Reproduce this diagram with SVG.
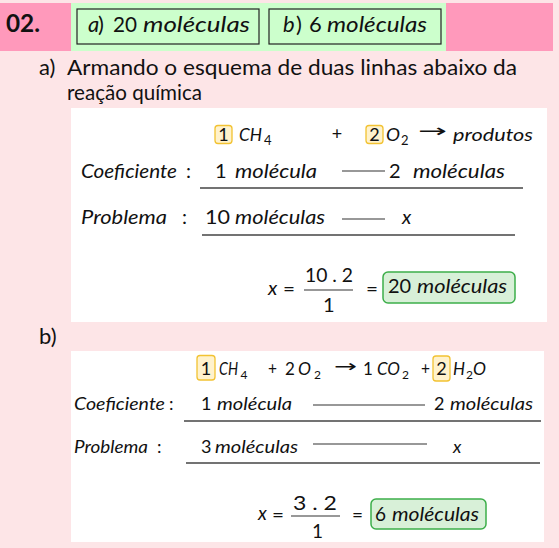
<svg xmlns="http://www.w3.org/2000/svg" width="559" height="548" viewBox="0 0 559 548">
<style>
text{font-family:Lato,"Open Sans","Liberation Sans",sans-serif;fill:#111}
.i{font-style:italic}
.bd{font-weight:bold}
.ar{font-family:"DejaVu Sans",sans-serif}
.hb{fill:#CCFFCC;stroke:#222;stroke-width:1.2}
.yb{fill:#FFF2CC;stroke:#F2C232;stroke-width:1.3}
.gb{fill:#D8F0D8;stroke:#3DAE4A;stroke-width:1.5}
.ln{stroke:#333;stroke-width:1.2}
.ul{stroke:#444;stroke-width:1.4}
.wb{fill:#FFFFFF}
</style>
<rect x="0" y="0" width="559" height="548" fill="#FDE5E7"/>

<g id="header">
<rect x="0" y="3" width="553" height="48" fill="#FF99BB"/>
<rect x="71" y="3" width="375" height="48" fill="#CCFFCC"/>
<text x="6" y="32" font-size="24" class="bd" textLength="34" lengthAdjust="spacingAndGlyphs">02.</text>
</g>

<g id="answer-a">
<rect class="hb" x="77" y="9" width="182" height="35"/>
<text x="88" y="32" font-size="22" class="i">a</text>
<text x="98" y="32" font-size="22">)</text>
<text x="113" y="32" font-size="22" textLength="24" lengthAdjust="spacingAndGlyphs">20</text>
<text x="143" y="32" font-size="22" class="i" textLength="107" lengthAdjust="spacingAndGlyphs">moléculas</text>
</g>

<g id="answer-b">
<rect class="hb" x="269" y="9" width="172" height="35"/>
<text x="283" y="32" font-size="22" class="i">b</text>
<text x="296" y="32" font-size="22">)</text>
<text x="309" y="32" font-size="22">6</text>
<text x="327" y="32" font-size="22" class="i" textLength="100" lengthAdjust="spacingAndGlyphs">moléculas</text>
</g>

<g id="intro-a">
<text x="39" y="75" font-size="22">a)</text>
<text x="67" y="75" font-size="22" textLength="450" lengthAdjust="spacingAndGlyphs">Armando o esquema de duas linhas abaixo da</text>
<text x="67" y="100" font-size="22" textLength="135" lengthAdjust="spacingAndGlyphs">reação química</text>
</g>

<g id="panel-a">
<rect class="wb" x="71" y="108" width="476" height="214"/>
<rect class="yb" x="215" y="125.5" width="17" height="18" rx="3"/>
<text x="223.5" y="141" font-size="18" text-anchor="middle">1</text>
<text x="239" y="141" font-size="18" class="i" textLength="23" lengthAdjust="spacingAndGlyphs">CH</text>
<text x="264" y="145" font-size="13">4</text>
<text x="337" y="140" font-size="18" text-anchor="middle">+</text>
<rect class="yb" x="366" y="125.5" width="17" height="18" rx="3"/>
<text x="374.5" y="141" font-size="18" text-anchor="middle">2</text>
<text x="386" y="141" font-size="18" class="i" textLength="14" lengthAdjust="spacingAndGlyphs">O</text>
<text x="401" y="145" font-size="13">2</text>
<text x="418" y="137" font-size="18" class="ar" textLength="29" lengthAdjust="spacingAndGlyphs">→</text>
<text x="453" y="141" font-size="18" class="i" textLength="80" lengthAdjust="spacingAndGlyphs">produtos</text>

<text x="81" y="178" font-size="20" class="i" textLength="96" lengthAdjust="spacingAndGlyphs">Coeficiente</text>
<text x="186" y="178" font-size="20">:</text>
<text x="215" y="178" font-size="20">1</text>
<text x="235" y="178" font-size="20" class="i" textLength="82" lengthAdjust="spacingAndGlyphs">molécula</text>
<text x="389" y="178" font-size="20">2</text>
<text x="413" y="178" font-size="20" class="i" textLength="92" lengthAdjust="spacingAndGlyphs">moléculas</text>

<text x="81" y="224" font-size="20" class="i" textLength="86" lengthAdjust="spacingAndGlyphs">Problema</text>
<text x="182" y="224" font-size="20">:</text>
<text x="205" y="224" font-size="20" textLength="25" lengthAdjust="spacingAndGlyphs">10</text>
<text x="235" y="224" font-size="20" class="i" textLength="90" lengthAdjust="spacingAndGlyphs">moléculas</text>
<text x="402" y="224" font-size="20" class="i">x</text>

<text x="268" y="295" font-size="20" class="i">x</text>
<text x="283" y="296" font-size="19" textLength="12" lengthAdjust="spacingAndGlyphs">=</text>
<text x="305" y="282" font-size="20" textLength="48" lengthAdjust="spacingAndGlyphs">10 . 2</text>
<text x="323" y="312" font-size="20">1</text>
<text x="366" y="296" font-size="19" textLength="12" lengthAdjust="spacingAndGlyphs">=</text>
<rect class="gb" x="383" y="272" width="132" height="31" rx="5"/>
<text x="388" y="293" font-size="20">20</text>
<text x="417" y="293" font-size="20" class="i" textLength="90" lengthAdjust="spacingAndGlyphs">moléculas</text>
</g>

<g id="label-b">
<text x="39" y="344" font-size="22">b)</text>
</g>

<g id="panel-b">
<rect class="wb" x="71" y="351" width="473" height="191"/>
<rect class="yb" x="197" y="355.5" width="18" height="24.5" rx="3"/>
<text x="206" y="375" font-size="18" text-anchor="middle">1</text>
<text x="219" y="375" font-size="17" class="i" textLength="19" lengthAdjust="spacingAndGlyphs">CH</text>
<text x="240.5" y="379" font-size="12">4</text>
<text x="268" y="375" font-size="17" textLength="9" lengthAdjust="spacingAndGlyphs">+</text>
<text x="285" y="375" font-size="17">2</text>
<text x="298" y="375" font-size="17" class="i" textLength="13" lengthAdjust="spacingAndGlyphs">O</text>
<text x="314" y="379" font-size="12">2</text>
<text x="334" y="372" font-size="17" class="ar" textLength="23" lengthAdjust="spacingAndGlyphs">→</text>
<text x="363" y="375" font-size="17">1</text>
<text x="377" y="375" font-size="17" class="i" textLength="23" lengthAdjust="spacingAndGlyphs">CO</text>
<text x="402" y="379" font-size="12">2</text>
<text x="421" y="375" font-size="17" textLength="9" lengthAdjust="spacingAndGlyphs">+</text>
<rect class="yb" x="433" y="356" width="17" height="25" rx="3"/>
<text x="441.5" y="375" font-size="18" text-anchor="middle">2</text>
<text x="453" y="375" font-size="17" class="i" textLength="12" lengthAdjust="spacingAndGlyphs">H</text>
<text x="466" y="379" font-size="12">2</text>
<text x="473" y="375" font-size="17" class="i" textLength="13" lengthAdjust="spacingAndGlyphs">O</text>

<text x="74" y="410" font-size="18" class="i" textLength="91" lengthAdjust="spacingAndGlyphs">Coeficiente</text>
<text x="169" y="410" font-size="18">:</text>
<text x="201" y="410" font-size="18">1</text>
<text x="217" y="410" font-size="18" class="i" textLength="75" lengthAdjust="spacingAndGlyphs">molécula</text>
<text x="434" y="410" font-size="18">2</text>
<text x="450" y="410" font-size="18" class="i" textLength="83" lengthAdjust="spacingAndGlyphs">moléculas</text>

<text x="74" y="453" font-size="18" class="i" textLength="74" lengthAdjust="spacingAndGlyphs">Problema</text>
<text x="157" y="453" font-size="18">:</text>
<text x="201" y="453" font-size="18">3</text>
<text x="215" y="453" font-size="18" class="i" textLength="83" lengthAdjust="spacingAndGlyphs">moléculas</text>
<text x="453" y="453" font-size="18" class="i">x</text>

<text x="258" y="520" font-size="19" class="i">x</text>
<text x="272" y="521" font-size="18" textLength="12" lengthAdjust="spacingAndGlyphs">=</text>
<text x="293" y="510" font-size="19" textLength="44" lengthAdjust="spacingAndGlyphs">3 . 2</text>
<text x="312" y="538" font-size="19">1</text>
<text x="352" y="521" font-size="18" textLength="11" lengthAdjust="spacingAndGlyphs">=</text>
<rect class="gb" x="371" y="499" width="115" height="30" rx="5"/>
<text x="375" y="521" font-size="19">6</text>
<text x="392" y="521" font-size="19" class="i" textLength="87" lengthAdjust="spacingAndGlyphs">moléculas</text>
</g>

<g id="connectors">
<line class="ln" x1="342" y1="171" x2="385" y2="171"/>
<line class="ul" x1="200" y1="188" x2="523" y2="188"/>
<line class="ln" x1="342" y1="219" x2="385" y2="219"/>
<line class="ul" x1="202" y1="235" x2="515" y2="235"/>
<line class="ln" x1="304" y1="290" x2="353" y2="290"/>
<line class="ln" x1="313" y1="405" x2="425" y2="405"/>
<line class="ul" x1="184" y1="421" x2="541" y2="421"/>
<line class="ln" x1="313" y1="444" x2="427" y2="444"/>
<line class="ul" x1="186" y1="463" x2="540" y2="463"/>
<line class="ln" x1="291" y1="516" x2="340" y2="516"/>
</g>
</svg>
